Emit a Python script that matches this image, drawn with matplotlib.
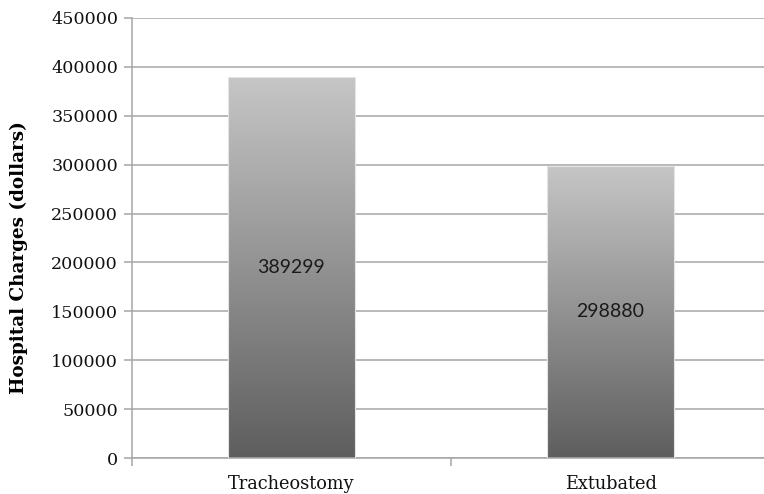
import numpy as np
import matplotlib
matplotlib.use("Agg")
import matplotlib.pyplot as plt
from matplotlib.colors import LinearSegmentedColormap
from matplotlib.ticker import FixedLocator

categories = ["Tracheostomy", "Extubated"]
charges = [389299, 298880]
y_ticks = [0, 50000, 100000, 150000, 200000, 250000, 300000, 350000, 400000, 450000]

fig = plt.figure(figsize=(7.64, 4.94), dpi=100)
ax = fig.add_axes([132 / 764, 1 - 458 / 494, (770 - 132) / 764, (458 - 18) / 494])

grid_c = "#a6a6a6"
x = np.arange(len(categories))
bars = ax.bar(x, charges, width=0.4, facecolor="none", edgecolor="#e4e4e4",
              linewidth=0.8, zorder=3)

# vertical grey gradient, light at the top and dark at the base of each bar
cmap = LinearSegmentedColormap.from_list("bargrey", ["#5e5e5e", "#c6c6c6"])
grad = np.linspace(0, 1, 256).reshape(-1, 1)
for b in bars:
    x0, w, h = b.get_x(), b.get_width(), b.get_height()
    im = ax.imshow(grad, cmap=cmap, origin="lower", aspect="auto",
                   extent=[x0, x0 + w, 0, h], zorder=2, interpolation="bicubic")
    im.set_clip_path(b)
    ax.text(x0 + w / 2, h / 2, f"{int(h)}", ha="center", va="center",
            fontsize=14, family="Lato", color="#1a1a1a", zorder=4)

ax.set_xlim(-0.5, 1.5)
ax.set_ylim(0, 450000)
ax.yaxis.set_major_locator(FixedLocator(y_ticks))
ax.set_yticklabels([str(v) for v in y_ticks], family="DejaVu Serif", fontsize=12.6)
ax.set_xticks(x)
ax.set_xticklabels(categories, family="DejaVu Serif", fontsize=12.8)
ax.xaxis.set_minor_locator(FixedLocator([-0.5, 0.5, 1.5]))
ax.tick_params(axis="x", which="major", length=0, pad=12)
ax.tick_params(axis="x", which="minor", length=6, width=1.1, color=grid_c, direction="out")
ax.tick_params(axis="y", length=6, width=1.1, color=grid_c, pad=4, labelcolor="#111111")
ax.tick_params(axis="x", labelcolor="#111111")

ax.grid(axis="y", color=grid_c, linewidth=1.1, zorder=1)
ax.set_axisbelow(True)
for s in ["top", "right"]:
    ax.spines[s].set_visible(False)
for s in ["left", "bottom"]:
    ax.spines[s].set_color(grid_c)
    ax.spines[s].set_linewidth(1.1)

fig.text(19 / 764, 1 - 258 / 494, "Hospital Charges (dollars)", rotation=90,
         ha="center", va="center", family="DejaVu Serif", fontweight="bold",
         fontsize=13.2)

fig.savefig("out.png", dpi=100)
